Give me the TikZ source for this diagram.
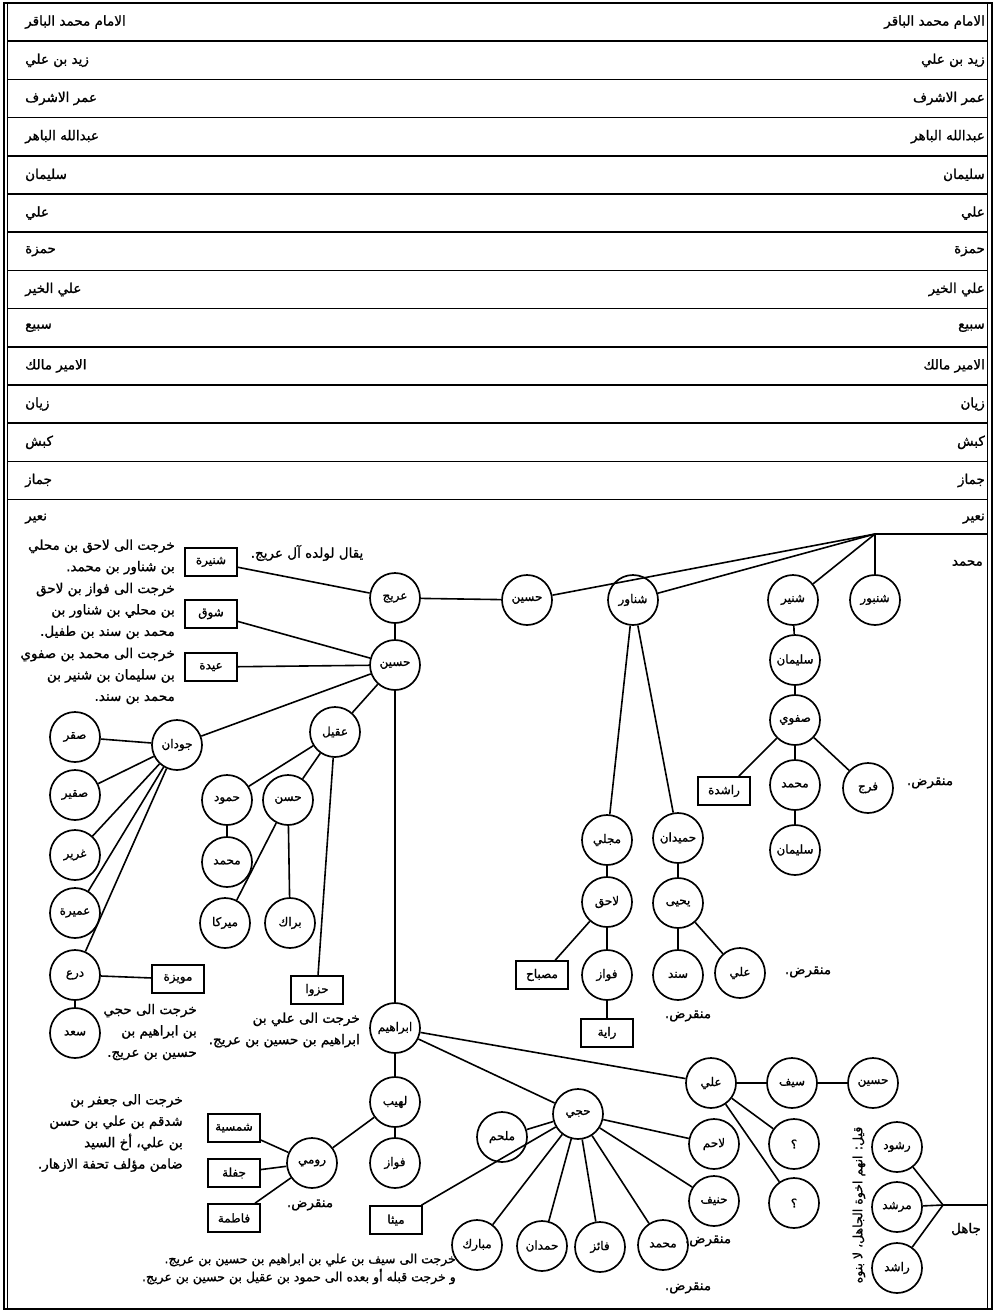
\documentclass[tikz,border=0pt]{standalone}
\usepackage{fontspec}
\usepackage{tikz}
\usetikzlibrary{positioning}
\newfontfamily\arabicfont[Script=Arabic, FakeBold=1.2]{DejaVu Sans}
\TeXXeTstate=1
\newcommand{\ar}[1]{\beginR #1\endR}
\tikzset{
  person/.style={circle, draw, line width=1.7pt, minimum size=50pt,
    inner sep=0pt, font=\arabicfont\fontsize{12}{14}\selectfont},
  daughter/.style={rectangle, draw, line width=1.7pt, minimum width=52pt,
    minimum height=28pt, inner sep=0pt, font=\arabicfont\fontsize{12}{14}\selectfont},
  rowname/.style={inner sep=0pt, font=\arabicfont\fontsize{13.5}{16}\selectfont},
  remark/.style={align=right, inner sep=0pt, font=\arabicfont\fontsize{13.5}{21.4}\selectfont},
  link/.style={line width=1.6pt}
}

\begin{document}
\begin{tikzpicture}[x=1pt, y=-1pt]
\def\R{38.2}
\useasboundingbox (0,0) rectangle (998,1316);
% Frame
\draw[line width=2pt] (3.5,3) rectangle (992,1309);
\draw[line width=1pt] (7,3) -- (7,1309);
\draw[line width=1pt] (987,3) -- (987,1309);
% Rows
\draw[link] (7,3+1*\R) -- (987,3+1*\R);
\draw[link] (7,3+2*\R) -- (987,3+2*\R);
\draw[link] (7,3+3*\R) -- (987,3+3*\R);
\draw[link] (7,3+4*\R) -- (987,3+4*\R);
\draw[link] (7,3+5*\R) -- (987,3+5*\R);
\draw[link] (7,3+6*\R) -- (987,3+6*\R);
\draw[link] (7,3+7*\R) -- (987,3+7*\R);
\draw[link] (7,3+8*\R) -- (987,3+8*\R);
\draw[link] (7,3+9*\R) -- (987,3+9*\R);
\draw[link] (7,3+10*\R) -- (987,3+10*\R);
\draw[link] (7,3+11*\R) -- (987,3+11*\R);
\draw[link] (7,3+12*\R) -- (987,3+12*\R);
\draw[link] (7,3+13*\R) -- (987,3+13*\R);
\node[rowname, anchor=east] (r0) at (985, 3+0.5*\R) {\ar{الامام محمد الباقر}};
\node[rowname, anchor=west] (l0) at (25, 3+0.5*\R) {\ar{الامام محمد الباقر}};
\node[rowname, anchor=east] (r1) at (985, 3+1.5*\R) {\ar{زيد بن علي}};
\node[rowname, anchor=west] (l1) at (25, 3+1.5*\R) {\ar{زيد بن علي}};
\node[rowname, anchor=east] (r2) at (985, 3+2.5*\R) {\ar{عمر الاشرف}};
\node[rowname, anchor=west] (l2) at (25, 3+2.5*\R) {\ar{عمر الاشرف}};
\node[rowname, anchor=east] (r3) at (985, 3+3.5*\R) {\ar{عبدالله الباهر}};
\node[rowname, anchor=west] (l3) at (25, 3+3.5*\R) {\ar{عبدالله الباهر}};
\node[rowname, anchor=east] (r4) at (985, 3+4.5*\R) {\ar{سليمان}};
\node[rowname, anchor=west] (l4) at (25, 3+4.5*\R) {\ar{سليمان}};
\node[rowname, anchor=east] (r5) at (985, 3+5.5*\R) {\ar{علي}};
\node[rowname, anchor=west] (l5) at (25, 3+5.5*\R) {\ar{علي}};
\node[rowname, anchor=east] (r6) at (985, 3+6.5*\R) {\ar{حمزة}};
\node[rowname, anchor=west] (l6) at (25, 3+6.5*\R) {\ar{حمزة}};
\node[rowname, anchor=east] (r7) at (985, 3+7.5*\R) {\ar{علي الخير}};
\node[rowname, anchor=west] (l7) at (25, 3+7.5*\R) {\ar{علي الخير}};
\node[rowname, anchor=east] (r8) at (985, 3+8.5*\R) {\ar{سبيع}};
\node[rowname, anchor=west] (l8) at (25, 3+8.5*\R) {\ar{سبيع}};
\node[rowname, anchor=east] (r9) at (985, 3+9.5*\R) {\ar{الامير مالك}};
\node[rowname, anchor=west] (l9) at (25, 3+9.5*\R) {\ar{الامير مالك}};
\node[rowname, anchor=east] (r10) at (985, 3+10.5*\R) {\ar{زيان}};
\node[rowname, anchor=west] (l10) at (25, 3+10.5*\R) {\ar{زيان}};
\node[rowname, anchor=east] (r11) at (985, 3+11.5*\R) {\ar{كبش}};
\node[rowname, anchor=west] (l11) at (25, 3+11.5*\R) {\ar{كبش}};
\node[rowname, anchor=east] (r12) at (985, 3+12.5*\R) {\ar{جماز}};
\node[rowname, anchor=west] (l12) at (25, 3+12.5*\R) {\ar{جماز}};
\node[rowname, anchor=east] (r13) at (985, 3+13.5*\R) {\ar{نعير}};
\node[rowname, anchor=west] (l13) at (25, 3+13.5*\R) {\ar{نعير}};
\node[rowname, anchor=east] (muhammad0) at (983, 563) {\ar{محمد}};
% Sons of Muhammad
\coordinate (fork1) at (875, 534);
\coordinate (fork1end) at (987, 534);
\node[person] (uraij) at (395, 598) {\ar{عريج}};
\node[person] (husain1) at (527, 600) {\ar{حسين}};
\node[person] (shnawar) at (633, 600) {\ar{شناور}};
\node[person] (shnair) at (793, 600) {\ar{شنير}};
\node[person] (shnbour) at (875, 600) {\ar{شنبور}};
\node[person] (sulaiman1) at (795, 660) {\ar{سليمان}};
\node[person] (safawi) at (795, 720) {\ar{صفوي}};
\node[daughter] (rashida) at (724, 791) {\ar{راشدة}};
\node[person] (muhammad1) at (795, 785) {\ar{محمد}};
\node[person] (faraj) at (868, 788) {\ar{فرج}};
\node[rowname] (extinct1) at (930, 783) {\ar{منقرض.}};
\node[person] (sulaiman2) at (795, 850) {\ar{سليمان}};
\node[person] (mujalli) at (607, 840) {\ar{مجلي}};
\node[person] (humaidan) at (678, 838) {\ar{حميدان}};
\node[person] (lahiq) at (607, 902) {\ar{لاحق}};
\node[person] (yahya) at (678, 903) {\ar{يحيى}};
\node[daughter] (misbah) at (542, 975) {\ar{مصباح}};
\node[person] (fawwaz1) at (607, 975) {\ar{فواز}};
\node[person] (sanad) at (678, 975) {\ar{سند}};
\node[person] (ali1) at (740, 973) {\ar{علي}};
\node[rowname] (extinct2) at (808, 972) {\ar{منقرض.}};
\node[rowname] (extinct3) at (688, 1016) {\ar{منقرض.}};
\node[daughter] (raya) at (607, 1033) {\ar{راية}};
% Uraij and Husain
\node[rowname] (saying) at (307, 553) {\ar{يقال لولده آل عريج.}};
\node[daughter] (shunaira) at (211, 562) {\ar{شنيرة}};
\node[daughter] (shouq) at (211, 614) {\ar{شوق}};
\node[daughter] (aida) at (211, 667) {\ar{عيدة}};
\node[remark, anchor=east] (note1) at (175, 557)
  {\ar{خرجت الى لاحق بن محلي}\\\ar{بن شناور بن محمد.}};
\node[remark, anchor=east] (note2) at (175, 611)
  {\ar{خرجت الى فواز بن لاحق}\\\ar{بن محلي بن شناور بن}\\\ar{محمد بن سند بن طفيل.}};
\node[remark, anchor=east] (note3) at (175, 676)
  {\ar{خرجت الى محمد بن صفوي}\\\ar{بن سليمان بن شنير بن}\\\ar{محمد بن سند.}};
\node[person] (husain2) at (395, 665) {\ar{حسين}};
\node[person] (joudan) at (177, 745) {\ar{جودان}};
\node[person] (aqil) at (335, 732) {\ar{عقيل}};
\node[person] (saqr) at (75, 737) {\ar{صقر}};
\node[person] (suqair) at (75, 795) {\ar{صقير}};
\node[person] (ghurair) at (75, 855) {\ar{غرير}};
\node[person] (umaira) at (75, 913) {\ar{عميرة}};
\node[person] (dir) at (75, 975) {\ar{درع}};
\node[person] (saad) at (75, 1033) {\ar{سعد}};
\node[daughter] (muwaiza) at (178, 979) {\ar{مويزة}};
\node[remark, anchor=east] (note4) at (197, 1032)
  {\ar{خرجت الى حجي}\\\ar{بن ابراهيم بن}\\\ar{حسين بن عريج.}};
\node[person] (hamoud) at (227, 800) {\ar{حمود}};
\node[person] (hasan) at (288, 800) {\ar{حسن}};
\node[person] (muhammad2) at (227, 862) {\ar{محمد}};
\node[person] (mirka) at (225, 923) {\ar{ميركا}};
\node[person] (barrak) at (290, 923) {\ar{براك}};
\node[daughter] (hazwa) at (317, 990) {\ar{حزوا}};
\node[remark, anchor=east] (note5) at (360, 1030)
  {\ar{خرجت الى علي بن}\\\ar{ابراهيم بن حسين بن عريج.}};
% Ibrahim
\node[person] (ibrahim) at (395, 1028) {\ar{ابراهيم}};
\node[person] (lahib) at (395, 1102) {\ar{لهيب}};
\node[person] (fawwaz2) at (395, 1163) {\ar{فواز}};
\node[person] (rumi) at (312, 1163) {\ar{رومي}};
\node[rowname] (extinct4) at (310, 1205) {\ar{منقرض.}};
\node[daughter] (shamsiya) at (234, 1128) {\ar{شمسية}};
\node[daughter] (jafla) at (234, 1173) {\ar{جفلة}};
\node[daughter] (fatima) at (234, 1218) {\ar{فاطمة}};
\node[remark, anchor=east] (note6) at (183, 1133)
  {\ar{خرجت الى جعفر بن}\\\ar{شدقم بن علي بن حسن}\\\ar{بن علي، أخ السيد}\\\ar{ضامن مؤلف تحفة الازهار.}};
\node[daughter] (maitha) at (396, 1220) {\ar{ميثا}};
\node[remark, anchor=east, font=\arabicfont\fontsize{12.5}{18}\selectfont] (note7) at (456, 1269)
  {\ar{خرجت الى سيف بن علي بن ابراهيم بن  حسين بن عريج.}\\\ar{و خرجت قبله أو بعده الى حمود بن عقيل بن حسين بن عريج.}};
\node[person] (ali2) at (711, 1083) {\ar{علي}};
\node[person] (saif) at (792, 1083) {\ar{سيف}};
\node[person] (husain3) at (873, 1083) {\ar{حسين}};
\node[person] (hajji) at (578, 1114) {\ar{حجي}};
\node[person] (mulhim) at (502, 1137) {\ar{ملحم}};
\node[person] (lahim) at (714, 1144) {\ar{لاحم}};
\node[person] (q1) at (794, 1144) {\ar{؟}};
\node[person] (q2) at (794, 1203) {\ar{؟}};
\node[person] (hanif) at (714, 1201) {\ar{حنيف}};
\node[rowname] (extinct5) at (708, 1241) {\ar{منقرض.}};
\node[person] (mubarak) at (477, 1245) {\ar{مبارك}};
\node[person] (hamdan) at (542, 1246) {\ar{حمدان}};
\node[person] (faiz) at (600, 1247) {\ar{فائز}};
\node[person] (muhammad3) at (663, 1245) {\ar{محمد}};
\node[rowname] (extinct6) at (688, 1288) {\ar{منقرض.}};
% Jahil
\coordinate (fork2) at (943, 1205);
\coordinate (fork2end) at (987, 1205);
\node[person] (rashoud) at (897, 1147) {\ar{رشود}};
\node[person] (murshid) at (897, 1207) {\ar{مرشد}};
\node[person] (rashid) at (897, 1268) {\ar{راشد}};
\node[rowname] (jahil) at (966, 1229) {\ar{جاهل}};
\node[rowname, rotate=90, font=\arabicfont\fontsize{12.5}{14}\selectfont] (note8) at (859, 1205) {\ar{قيل: انهم اخوة الجاهل، لا بنوه}};
% Links
\draw[link] (fork1end) -- (fork1) -- (husain1);
\draw[link] (fork1) -- (shnawar);
\draw[link] (fork1) -- (shnair);
\draw[link] (fork1) -- (shnbour);
\draw[link] (uraij) -- (husain1);
\draw[link] (shunaira) -- (uraij);
\draw[link] (uraij) -- (husain2);
\draw[link] (shouq) -- (husain2);
\draw[link] (aida) -- (husain2);
\draw[link] (husain2) -- (joudan);
\draw[link] (husain2) -- (aqil);
\draw[link] (husain2) -- (ibrahim);
\draw[link] (joudan) -- (saqr);
\draw[link] (joudan) -- (suqair);
\draw[link] (joudan) -- (ghurair);
\draw[link] (joudan) -- (umaira);
\draw[link] (joudan) -- (dir);
\draw[link] (dir) -- (muwaiza);
\draw[link] (dir) -- (saad);
\draw[link] (aqil) -- (hamoud);
\draw[link] (aqil) -- (hasan);
\draw[link] (aqil) -- (hazwa);
\draw[link] (hamoud) -- (muhammad2);
\draw[link] (hasan) -- (mirka);
\draw[link] (hasan) -- (barrak);
\draw[link] (shnawar) -- (mujalli);
\draw[link] (shnawar) -- (humaidan);
\draw[link] (mujalli) -- (lahiq);
\draw[link] (lahiq) -- (misbah);
\draw[link] (lahiq) -- (fawwaz1);
\draw[link] (fawwaz1) -- (raya);
\draw[link] (humaidan) -- (yahya);
\draw[link] (yahya) -- (sanad);
\draw[link] (yahya) -- (ali1);
\draw[link] (shnair) -- (sulaiman1);
\draw[link] (sulaiman1) -- (safawi);
\draw[link] (safawi) -- (rashida);
\draw[link] (safawi) -- (muhammad1);
\draw[link] (safawi) -- (faraj);
\draw[link] (muhammad1) -- (sulaiman2);
\draw[link] (ibrahim) -- (ali2);
\draw[link] (ibrahim) -- (hajji);
\draw[link] (ibrahim) -- (lahib);
\draw[link] (ali2) -- (saif);
\draw[link] (saif) -- (husain3);
\draw[link] (ali2) -- (q1);
\draw[link] (ali2) -- (q2);
\draw[link] (hajji) -- (mulhim);
\draw[link] (hajji) -- (lahim);
\draw[link] (hajji) -- (hanif);
\draw[link] (hajji) -- (muhammad3);
\draw[link] (hajji) -- (faiz);
\draw[link] (hajji) -- (hamdan);
\draw[link] (hajji) -- (mubarak);
\draw[link] (hajji) -- (maitha);
\draw[link] (lahib) -- (rumi);
\draw[link] (lahib) -- (fawwaz2);
\draw[link] (rumi) -- (shamsiya);
\draw[link] (rumi) -- (jafla);
\draw[link] (rumi) -- (fatima);
\draw[link] (fork2end) -- (fork2) -- (murshid);
\draw[link] (fork2) -- (rashoud);
\draw[link] (fork2) -- (rashid);
\end{tikzpicture}
\end{document}
